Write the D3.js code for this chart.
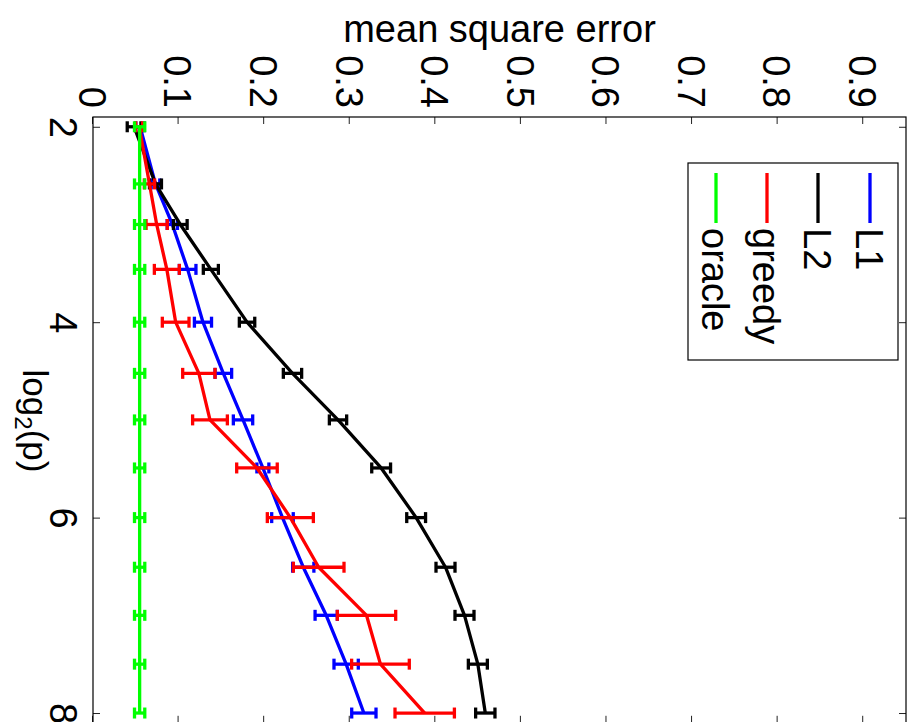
<!DOCTYPE html>
<html>
<head>
<meta charset="utf-8">
<script src="https://cdn.jsdelivr.net/npm/d3@7"></script>
<style>
  html, body { margin: 0; padding: 0; background: #ffffff; }
  svg { display: block; }
  text { font-family: "Liberation Sans", Arial, Helvetica, sans-serif; fill: #000; }
</style>
</head>
<body>
<div id="chart"></div>
<script>
// ---------------- data ----------------
const pValues = [4, 6, 8, 11, 16, 23, 32, 45, 64, 91, 128, 181, 256];
const seriesNames = ["L1", "L2", "greedy", "oracle"];
const seriesColors = ["#0000ff", "#000000", "#ff0000", "#00ff00"];

const l1Mean   = [0.055, 0.073, 0.0927, 0.1106, 0.1285, 0.1523, 0.1753, 0.1985, 0.2214, 0.2457, 0.2725, 0.2958, 0.3165];
const l1Err    = [0.005, 0.005, 0.006, 0.0097, 0.010, 0.0097, 0.0113, 0.007, 0.0126, 0.0124, 0.013, 0.0142, 0.0142];
const l2Mean   = [0.048, 0.073, 0.102, 0.1377, 0.180, 0.2331, 0.2863, 0.3367, 0.3776, 0.4119, 0.4341, 0.4497, 0.4584];
const l2Err    = [0.008, 0.007, 0.008, 0.0088, 0.009, 0.0107, 0.0101, 0.011, 0.011, 0.0111, 0.0111, 0.0111, 0.0113];
const greedyMean = [0.054, 0.066, 0.0744, 0.0863, 0.0966, 0.1237, 0.1367, 0.1916, 0.2306, 0.2637, 0.3196, 0.3359, 0.3876];
const greedyErr  = [0.004, 0.006, 0.0124, 0.0146, 0.0156, 0.0189, 0.0203, 0.0237, 0.0269, 0.0296, 0.0341, 0.0337, 0.0347];
const oracleMean = [0.0545, 0.0545, 0.0545, 0.0545, 0.0545, 0.0545, 0.0545, 0.0545, 0.0545, 0.0545, 0.0545, 0.0545, 0.0545];
const oracleErr  = [0.006, 0.006, 0.006, 0.006, 0.006, 0.006, 0.006, 0.006, 0.006, 0.006, 0.006, 0.006, 0.006];

const xTicks = [2, 4, 6, 8];
const yTicks = [0, 0.1, 0.2, 0.3, 0.4, 0.5, 0.6, 0.7, 0.8, 0.9];
const xLimits = [1.9, 8.1];
const yLimits = [0, 0.95];
const xLabelMain = "log";
const xLabelSub = "2";
const xLabelTail = "(p)";
const yLabelText = "mean square error";

// ---------------- layout ----------------
const W = 914, H = 722;
const svg = d3.select("#chart").append("svg").attr("width", W).attr("height", H);
svg.append("rect").attr("width", W).attr("height", H).attr("fill", "#fff");

// The whole figure is rotated 90 degrees clockwise.
const g = svg.append("g").attr("transform", `translate(${W},0) rotate(90)`);

const plotLeft = 117, plotRight = 722.8, plotTop = 8, plotBottom = 821;
const FS = 38;

const x = d3.scaleLinear().domain(xLimits).range([plotLeft, plotRight]);
const y = d3.scaleLinear().domain(yLimits).range([plotBottom, plotTop]);

// axes
const tickLen = 7;
const axB = g.append("g").attr("transform", `translate(0,${plotBottom})`)
  .call(d3.axisBottom(x).tickValues(xTicks).tickSizeInner(-tickLen).tickSizeOuter(0).tickFormat(d3.format("d")));
axB.selectAll("text").attr("y", 43).attr("dy", 0).style("font-size", FS + "px");
const axT = g.append("g").attr("transform", `translate(0,${plotTop})`)
  .call(d3.axisTop(x).tickValues(xTicks).tickSizeInner(-tickLen).tickSizeOuter(0).tickFormat(""));
const axL = g.append("g").attr("transform", `translate(${plotLeft},0)`)
  .call(d3.axisLeft(y).tickValues(yTicks).tickSizeInner(-tickLen).tickSizeOuter(0)
    .tickFormat(d => d === 0 ? "0" : d3.format(".1f")(d)));
axL.selectAll("text").attr("x", -9).attr("dy", "0.36em").style("font-size", FS + "px");
const axR = g.append("g").attr("transform", `translate(${plotRight},0)`)
  .call(d3.axisRight(y).tickValues(yTicks).tickSizeInner(-tickLen).tickSizeOuter(0).tickFormat(""));
[axB, axT, axL, axR].forEach(a => {
  a.select(".domain").remove();
  a.selectAll(".tick line").attr("stroke", "#222").attr("stroke-width", 1);
  a.attr("font-family", null).attr("font-size", null);
});

// box
g.append("rect").attr("x", plotLeft).attr("y", plotTop)
  .attr("width", plotRight - plotLeft).attr("height", plotBottom - plotTop)
  .attr("fill", "none").attr("stroke", "#000").attr("stroke-width", 1.2);

// axis labels
const xl = g.append("text").attr("x", 421).attr("y", 891)
  .attr("text-anchor", "middle").style("font-size", "35px");
xl.append("tspan").text(xLabelMain);
xl.append("tspan").attr("dy", 8).style("font-size", "24px").text(xLabelSub);
xl.append("tspan").attr("dy", -8).text(xLabelTail);

g.append("text").attr("transform", `translate(42,${(plotTop + plotBottom) / 2}) rotate(-90)`)
  .attr("text-anchor", "middle").style("font-size", FS + "px").text(yLabelText);

// series
const series = [
  { name: seriesNames[0], color: seriesColors[0], mean: l1Mean, err: l1Err },
  { name: seriesNames[1], color: seriesColors[1], mean: l2Mean, err: l2Err },
  { name: seriesNames[2], color: seriesColors[2], mean: greedyMean, err: greedyErr },
  { name: seriesNames[3], color: seriesColors[3], mean: oracleMean, err: oracleErr }
];
const capHalf = 5.5;
const SW = 3.3;
const line = d3.line().x(d => x(d.lx)).y(d => y(d.m));

series.forEach(s => {
  const pts = pValues.map((p, i) => ({ lx: Math.log2(p), m: s.mean[i], e: s.err[i] }));
  const sg = g.append("g");
  const eb = sg.selectAll("g.eb").data(pts).enter().append("g").attr("class", "eb");
  eb.append("line").attr("x1", d => x(d.lx)).attr("x2", d => x(d.lx))
    .attr("y1", d => y(d.m - d.e)).attr("y2", d => y(d.m + d.e))
    .attr("stroke", s.color).attr("stroke-width", SW);
  eb.append("line").attr("x1", d => x(d.lx) - capHalf).attr("x2", d => x(d.lx) + capHalf)
    .attr("y1", d => y(d.m - d.e)).attr("y2", d => y(d.m - d.e))
    .attr("stroke", s.color).attr("stroke-width", SW);
  eb.append("line").attr("x1", d => x(d.lx) - capHalf).attr("x2", d => x(d.lx) + capHalf)
    .attr("y1", d => y(d.m + d.e)).attr("y2", d => y(d.m + d.e))
    .attr("stroke", s.color).attr("stroke-width", SW);
  sg.append("path").datum(pts).attr("d", line)
    .attr("fill", "none").attr("stroke", s.color).attr("stroke-width", SW)
    .attr("stroke-linejoin", "round");
});

// legend
const lg = g.append("g");
lg.append("rect").attr("x", 163).attr("y", 16).attr("width", 197).attr("height", 210)
  .attr("fill", "#fff").attr("stroke", "#000").attr("stroke-width", 1.2);
const legY = [44, 96, 147, 198];
series.forEach((s, i) => {
  lg.append("line").attr("x1", 173).attr("x2", 223).attr("y1", legY[i]).attr("y2", legY[i])
    .attr("stroke", s.color).attr("stroke-width", SW);
  lg.append("text").attr("x", 228).attr("y", legY[i]).attr("dy", "0.36em")
    .style("font-size", FS + "px").text(s.name);
});
</script>
</body>
</html>
